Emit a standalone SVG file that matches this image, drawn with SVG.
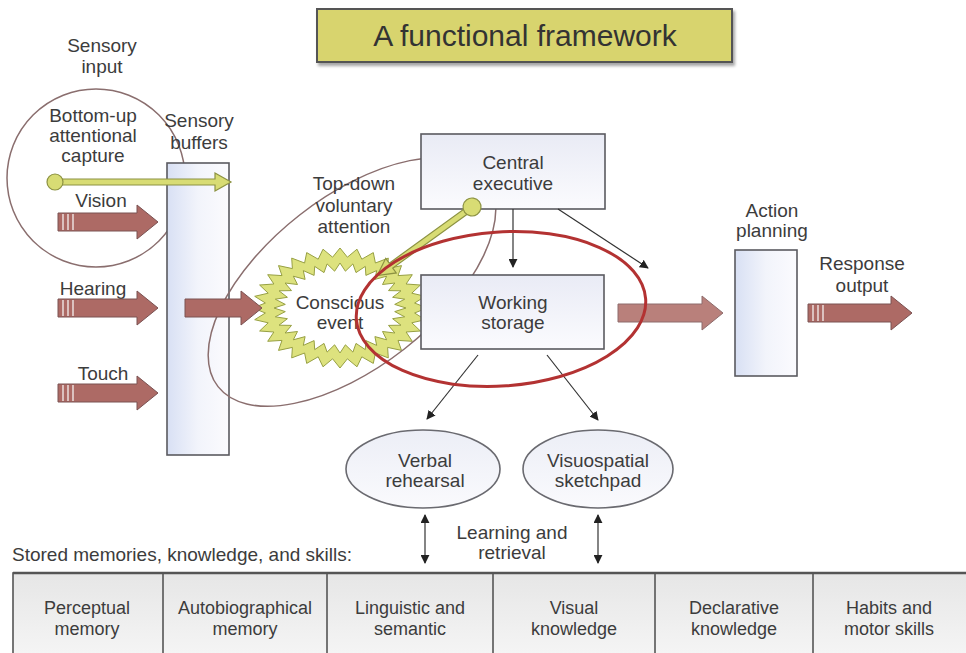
<svg xmlns="http://www.w3.org/2000/svg" width="966" height="653" viewBox="0 0 966 653">
  <style>
    text { font-family: "Liberation Sans", Arial, sans-serif; font-size: 19px; fill: #3c3c3c; text-anchor: middle; }
    .title { font-size: 30px; fill: #333; }
    .left { text-anchor: start; }
    .cellText { font-size: 18px; }
    .box { fill: url(#boxFill); stroke: #5a5a60; stroke-width: 1.6; }
    .tall { fill: url(#bufFill); stroke: #5a5a60; stroke-width: 1.6; }
    .oval { fill: url(#ovalFill); stroke: #6a6a70; stroke-width: 1.6; }
    .big { fill: #ad6a65; stroke: #7a5252; stroke-width: 1; }
    .stripe { stroke: #e8d8d6; stroke-width: 1.6; }
    .lolly { fill: #d8dc74; stroke: #8c9242; stroke-width: 1.2; }
    .thin { stroke: #333; stroke-width: 1.2; fill: none; }
    .loop { fill: none; stroke: #8a6e6e; stroke-width: 1.5; }
    .focus { fill: none; stroke: #b33232; stroke-width: 3; }
    .cell { fill: none; stroke: #555; stroke-width: 1.6; }
  </style>
  <defs>
    <linearGradient id="boxFill" x1="0" y1="0" x2="0" y2="1">
      <stop offset="0" stop-color="#e9ebf5"/>
      <stop offset="1" stop-color="#fbfbfe"/>
    </linearGradient>
    <linearGradient id="bufFill" x1="0" y1="0" x2="1" y2="0">
      <stop offset="0" stop-color="#d8e0f4"/>
      <stop offset="0.5" stop-color="#f2f4fb"/>
      <stop offset="1" stop-color="#fbfbfe"/>
    </linearGradient>
    <linearGradient id="ovalFill" x1="0" y1="0" x2="0" y2="1">
      <stop offset="0" stop-color="#eceef6"/>
      <stop offset="1" stop-color="#fafafd"/>
    </linearGradient>
    <linearGradient id="tableFill" x1="0" y1="0" x2="0" y2="1">
      <stop offset="0" stop-color="#e6e6e6"/>
      <stop offset="1" stop-color="#f6f6f6"/>
    </linearGradient>
    <marker id="tri" viewBox="0 0 10 10" refX="9" refY="5" markerWidth="9" markerHeight="9" markerUnits="userSpaceOnUse" orient="auto-start-reverse">
      <path d="M0,0 L10,5 L0,10 Z" fill="#222"/>
    </marker>
    <filter id="shadow" x="-5%" y="-20%" width="110%" height="150%">
      <feDropShadow dx="2" dy="3" stdDeviation="1.5" flood-color="#000" flood-opacity="0.35"/>
    </filter>
  </defs>

  <!-- title -->
  <g id="title">
    <rect x="317" y="9" width="415" height="53" fill="#d8d46e" stroke="#555" stroke-width="2" filter="url(#shadow)"/>
    <text class="title" x="525" y="46">A functional framework</text>
  </g>

  <!-- stored memories table -->
  <g id="memories">
    <text class="left" x="12" y="561">Stored memories, knowledge, and skills:</text>
    <rect x="13" y="573" width="960" height="90" fill="url(#tableFill)" stroke="#555" stroke-width="1.6"/>
    <line x1="13" y1="573" x2="966" y2="573" stroke="#555" stroke-width="2.6"/>
    <line class="cell" x1="163" y1="573" x2="163" y2="653"/>
    <line class="cell" x1="327" y1="573" x2="327" y2="653"/>
    <line class="cell" x1="493" y1="573" x2="493" y2="653"/>
    <line class="cell" x1="655" y1="573" x2="655" y2="653"/>
    <line class="cell" x1="813" y1="573" x2="813" y2="653"/>
    <g id="mem-perceptual" class="cellText"><text class="cellText" x="87" y="614">Perceptual</text><text class="cellText" x="87" y="635">memory</text></g>
    <g id="mem-autobio"><text class="cellText" x="245" y="614">Autobiographical</text><text class="cellText" x="245" y="635">memory</text></g>
    <g id="mem-linguistic"><text class="cellText" x="410" y="614">Linguistic and</text><text class="cellText" x="410" y="635">semantic</text></g>
    <g id="mem-visual"><text class="cellText" x="574" y="614">Visual</text><text class="cellText" x="574" y="635">knowledge</text></g>
    <g id="mem-declarative"><text class="cellText" x="734" y="614">Declarative</text><text class="cellText" x="734" y="635">knowledge</text></g>
    <g id="mem-habits"><text class="cellText" x="889" y="614">Habits and</text><text class="cellText" x="889" y="635">motor skills</text></g>
  </g>

  <!-- sensory input -->
  <g id="sensory-input">
    <text x="102" y="52">Sensory</text>
    <text x="102" y="73">input</text>
  </g>

  <g id="bottom-up">
    <circle class="loop" cx="96" cy="178" r="89"/>
    <text x="93" y="122">Bottom-up</text>
    <text x="93" y="142">attentional</text>
    <text x="93" y="162">capture</text>
  </g>

  <g id="sensory-buffers">
    <text x="199" y="127">Sensory</text>
    <text x="199" y="149">buffers</text>
    <rect class="tall" x="167" y="163" width="62" height="292"/>
  </g>

  <g id="vision"><text x="101" y="207">Vision</text></g>
  <g id="hearing"><text x="93" y="295">Hearing</text></g>
  <g id="touch"><text x="103" y="380">Touch</text></g>

  <!-- starburst around the conscious event -->
  <g id="conscious-event">
    <g transform="translate(340,308)">
      <path fill="#dde27e" stroke="#97a043" stroke-width="1" fill-rule="evenodd" d="M87,0 74.6,5 85.3,11.7 71.8,14.8 80.4,23 66.1,24 72.3,33.3 58,32.4 61.5,42.4 47.6,39.4 48.3,49.9 35.4,45 33.3,55.4 21.8,48.8 17,58.8 7.4,50.8 0,60 -7.4,50.8 -17,58.8 -21.8,48.8 -33.3,55.4 -35.4,45 -48.3,49.9 -47.6,39.4 -61.5,42.4 -58,32.4 -72.3,33.3 -66.1,24 -80.4,23 -71.8,14.8 -85.3,11.7 -74.6,5 -87,0 -74.6,-5 -85.3,-11.7 -71.8,-14.8 -80.4,-23 -66.1,-24 -72.3,-33.3 -58,-32.4 -61.5,-42.4 -47.6,-39.4 -48.3,-49.9 -35.4,-45 -33.3,-55.4 -21.8,-48.8 -17,-58.8 -7.4,-50.8 0,-60 7.4,-50.8 17,-58.8 21.8,-48.8 33.3,-55.4 35.4,-45 48.3,-49.9 47.6,-39.4 61.5,-42.4 58,-32.4 72.3,-33.3 66.1,-24 80.4,-23 71.8,-14.8 85.3,-11.7 74.6,-5 Z M66,0 54.7,3.6 64.7,8.8 52.6,10.7 61,17.2 48.5,17.4 54.9,25 42.5,23.5 46.7,31.8 34.9,28.6 36.7,37.4 25.9,32.6 25.3,41.6 16,35.4 12.9,44.1 5.4,36.8 0,45 -5.4,36.8 -12.9,44.1 -16,35.4 -25.3,41.6 -25.9,32.6 -36.7,37.4 -34.9,28.6 -46.7,31.8 -42.5,23.5 -54.9,25 -48.5,17.4 -61,17.2 -52.6,10.7 -64.7,8.8 -54.7,3.6 -66,0 -54.7,-3.6 -64.7,-8.8 -52.6,-10.7 -61,-17.2 -48.5,-17.4 -54.9,-25 -42.5,-23.5 -46.7,-31.8 -34.9,-28.6 -36.7,-37.4 -25.9,-32.6 -25.3,-41.6 -16,-35.4 -12.9,-44.1 -5.4,-36.8 0,-45 5.4,-36.8 12.9,-44.1 16,-35.4 25.3,-41.6 25.9,-32.6 36.7,-37.4 34.9,-28.6 46.7,-31.8 42.5,-23.5 54.9,-25 48.5,-17.4 61,-17.2 52.6,-10.7 64.7,-8.8 54.7,-3.6 Z"/>
    </g>
    <text x="340" y="309">Conscious</text>
    <text x="340" y="329">event</text>
  </g>

  <g id="top-down">
    <ellipse class="loop" cx="352" cy="282" rx="170" ry="85" transform="rotate(-38 352 282)"/>
    <text x="354" y="190">Top-down</text>
    <text x="354" y="212">voluntary</text>
    <text x="354" y="233">attention</text>
  </g>

  <g id="central-executive">
    <rect class="box" x="421" y="134" width="184" height="75"/>
    <text x="513" y="169">Central</text>
    <text x="513" y="190">executive</text>
  </g>

  <g id="working-storage">
    <rect class="box" x="421" y="275" width="183" height="74"/>
    <text x="513" y="309">Working</text>
    <text x="513" y="329">storage</text>
  </g>

  <g id="action-planning">
    <text x="772" y="217">Action</text>
    <text x="772" y="237">planning</text>
    <rect class="tall" x="735" y="250" width="62" height="126"/>
  </g>

  <g id="response-output">
    <text x="862" y="270">Response</text>
    <text x="862" y="292">output</text>
  </g>

  <g id="verbal-rehearsal">
    <ellipse class="oval" cx="423" cy="469" rx="77" ry="39"/>
    <text x="425" y="467">Verbal</text>
    <text x="425" y="487">rehearsal</text>
  </g>

  <g id="visuospatial-sketchpad">
    <ellipse class="oval" cx="598" cy="469" rx="75" ry="39"/>
    <text x="598" y="467">Visuospatial</text>
    <text x="598" y="487">sketchpad</text>
  </g>

  <g id="learning-retrieval">
    <text x="512" y="539">Learning and</text>
    <text x="512" y="559">retrieval</text>
  </g>

  <!-- connectors -->
  <g id="connectors">
    <!-- sensory channels into the buffers -->
    <path class="big" d="M58,213 H137 V205 L158,222 L137,239 V231 H58 Z"/>
    <line class="stripe" x1="63" y1="214" x2="63" y2="230"/>
    <line class="stripe" x1="68" y1="214" x2="68" y2="230"/>
    <line class="stripe" x1="73" y1="214" x2="73" y2="230"/>
    <path class="big" d="M58,299 H137 V291 L158,308 L137,325 V317 H58 Z"/>
    <line class="stripe" x1="63" y1="300" x2="63" y2="316"/>
    <line class="stripe" x1="68" y1="300" x2="68" y2="316"/>
    <line class="stripe" x1="73" y1="300" x2="73" y2="316"/>
    <path class="big" d="M58,384 H137 V376 L158,393 L137,410 V402 H58 Z"/>
    <line class="stripe" x1="63" y1="385" x2="63" y2="401"/>
    <line class="stripe" x1="68" y1="385" x2="68" y2="401"/>
    <line class="stripe" x1="73" y1="385" x2="73" y2="401"/>

    <!-- buffers to conscious event -->
    <path class="big" d="M185,299 H241 V291 L262,308 L241,325 V317 H185 Z"/>

    <!-- bottom-up capture -->
    <g transform="translate(55,182)">
      <path class="lolly" d="M0,-3 H160 V-9 L176,0 L160,9 V3 H0 Z"/>
      <circle class="lolly" cx="0" cy="0" r="8"/>
    </g>

    <!-- top-down attention -->
    <g transform="translate(472,207) rotate(144.1)">
      <path class="lolly" d="M0,-3 H100 V-9 L117,0 L100,9 V3 H0 Z"/>
      <circle class="lolly" cx="0" cy="0" r="9"/>
    </g>

    <!-- executive control -->
    <line class="thin" x1="513" y1="209" x2="513" y2="267" marker-end="url(#tri)"/>
    <line class="thin" x1="558" y1="209" x2="648" y2="268" marker-end="url(#tri)"/>

    <!-- working storage to the subsystems -->
    <line class="thin" x1="478" y1="355" x2="427" y2="419" marker-end="url(#tri)"/>
    <line class="thin" x1="547" y1="355" x2="598" y2="420" marker-end="url(#tri)"/>

    <!-- learning and retrieval -->
    <line class="thin" x1="425" y1="515" x2="425" y2="563" marker-start="url(#tri)" marker-end="url(#tri)"/>
    <line class="thin" x1="598" y1="515" x2="598" y2="563" marker-start="url(#tri)" marker-end="url(#tri)"/>

    <!-- to action planning and response -->
    <path class="big" d="M618,304 H702 V296 L723,313 L702,330 V322 H618 Z" opacity="0.85"/>
    <path class="big" d="M808,304 H891 V296 L912,313 L891,330 V322 H808 Z"/>
    <line class="stripe" x1="813" y1="305" x2="813" y2="321"/>
    <line class="stripe" x1="818" y1="305" x2="818" y2="321"/>
    <line class="stripe" x1="823" y1="305" x2="823" y2="321"/>
  </g>

  <!-- working memory focus -->
  <g id="working-memory">
    <ellipse class="focus" cx="501" cy="309" rx="145" ry="77" transform="rotate(-4 501 309)"/>
  </g>
</svg>
